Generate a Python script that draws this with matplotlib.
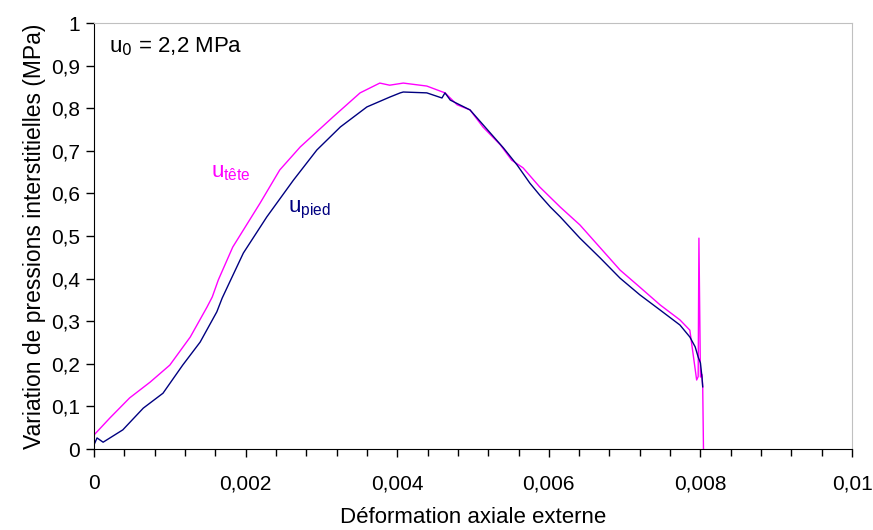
import matplotlib
matplotlib.use("Agg")
import matplotlib.pyplot as plt
from matplotlib.ticker import FixedLocator, MultipleLocator

plt.rcParams['font.family'] = ['Liberation Sans', 'DejaVu Sans']

# u_tete (magenta)
tete_x = [0.0, 0.00021, 0.00047, 0.00074, 0.0010, 0.00127, 0.00149, 0.00156, 0.00164,
          0.00183, 0.00219, 0.00245, 0.00272, 0.00315, 0.00351, 0.00377, 0.0039,
          0.00408, 0.00439, 0.00463, 0.00479, 0.00496, 0.00513, 0.00536, 0.00551,
          0.00566, 0.00588, 0.00615, 0.00641, 0.00668, 0.00694, 0.0072, 0.00747,
          0.00773, 0.00786, 0.00795, 0.00797, 0.00798, 0.0080, 0.00802, 0.00803, 0.00804]
tete_y = [0.033, 0.073, 0.12, 0.157, 0.197, 0.263, 0.333, 0.357, 0.397,
          0.474, 0.577, 0.655, 0.709, 0.779, 0.836, 0.859, 0.854,
          0.859, 0.852, 0.836, 0.808, 0.796, 0.756, 0.714, 0.678,
          0.66, 0.615, 0.568, 0.526, 0.472, 0.42, 0.38, 0.338,
          0.303, 0.279, 0.162, 0.17, 0.495, 0.169, 0.175, 0.146, 0.0]

# u_pied (navy)
pied_x = [0.0, 0.00004, 0.00012, 0.00038, 0.00065, 0.00091, 0.00117, 0.0014, 0.00162,
          0.00169, 0.00179, 0.00197, 0.00228, 0.00263, 0.00294, 0.00325, 0.0036,
          0.0039, 0.00404, 0.00408, 0.00439, 0.00459, 0.00463, 0.0047, 0.00496,
          0.0054, 0.00558, 0.00575, 0.00588, 0.00602, 0.00615, 0.00641, 0.00668,
          0.00694, 0.0072, 0.00747, 0.00773, 0.00786, 0.00793, 0.00797, 0.0080,
          0.00802, 0.00803]
pied_y = [0.01, 0.026, 0.016, 0.045, 0.096, 0.131, 0.197, 0.251, 0.322,
          0.354, 0.392, 0.46, 0.545, 0.631, 0.702, 0.756, 0.803,
          0.826, 0.836, 0.838, 0.836, 0.824, 0.836, 0.819, 0.796,
          0.707, 0.667, 0.624, 0.596, 0.568, 0.545, 0.495, 0.448,
          0.401, 0.362, 0.326, 0.291, 0.263, 0.24, 0.216, 0.202,
          0.169, 0.146]

x_major = [0, 0.002, 0.004, 0.006, 0.008, 0.01]
x_labels = ["0", "0,002", "0,004", "0,006", "0,008", "0,01"]
y_major = [0, 0.1, 0.2, 0.3, 0.4, 0.5, 0.6, 0.7, 0.8, 0.9, 1.0]
y_labels = ["0", "0,1", "0,2", "0,3", "0,4", "0,5", "0,6", "0,7", "0,8", "0,9", "1"]

fig = plt.figure(figsize=(8.73, 5.30), dpi=100)
ax = fig.add_axes([0.1077, 0.1528, 0.8683, 0.8038])

ax.plot(tete_x, tete_y, color='#FF00FF', lw=1.0)
ax.plot(pied_x, pied_y, color='#000080', lw=1.0)

ax.set_xlim(0, 0.01)
ax.set_ylim(0, 1)
ax.xaxis.set_major_locator(FixedLocator(x_major))
ax.set_xticklabels(x_labels)
ax.xaxis.set_minor_locator(MultipleLocator(0.0004))
ax.yaxis.set_major_locator(FixedLocator(y_major))
ax.set_yticklabels(y_labels)

ax.tick_params(axis='both', which='major', direction='out', length=6, width=1,
               labelsize=15, colors='black')
ax.tick_params(axis='x', which='major', pad=12)
ax.tick_params(axis='x', which='minor', direction='out', length=5, width=1)
ax.tick_params(axis='y', which='major', pad=4)

for s in ['top', 'right']:
    ax.spines[s].set_color('#c0c0c0')
for s in ['left', 'bottom']:
    ax.spines[s].set_color('black')

ax.set_xlabel("Déformation axiale externe", fontsize=16, labelpad=10)
ax.set_ylabel("Variation de pressions interstitielles (MPa)", fontsize=16.5, labelpad=4)

ax.text(0.0002, 0.972, r"u$_0$ = 2,2 MPa", fontsize=16, va='top', ha='left')
ax.text(0.00154, 0.65, r"u$_\mathregular{tête}$", fontsize=16, color='#FF00FF', va='center')
ax.text(0.00256, 0.56, r"u$_\mathregular{pied}$", fontsize=16, color='#000080', va='center')

fig.savefig("out.png", dpi=100)
